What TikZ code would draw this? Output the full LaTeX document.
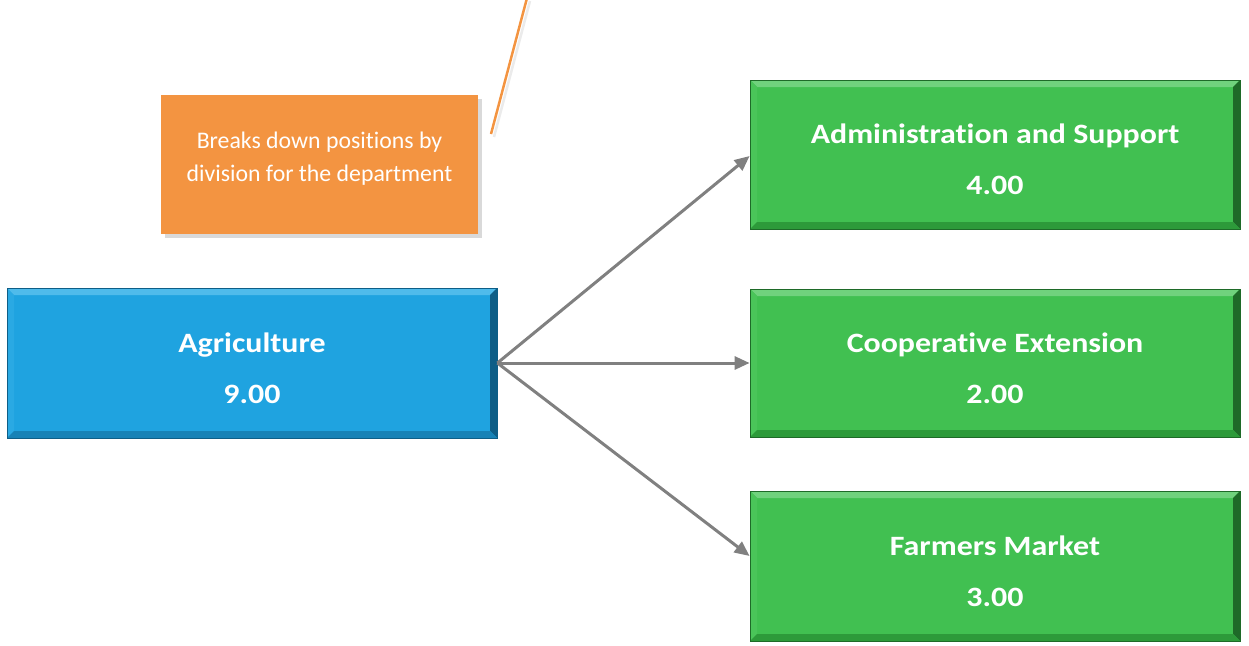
\documentclass[tikz,border=0pt]{standalone}
\usepackage{fontspec}
\setmainfont[Ligatures=NoCommon]{Carlito}
\newfontfamily\boxfont[FakeStretch=1.14, Ligatures=NoCommon]{Carlito}
\usetikzlibrary{shadows,arrows.meta}

\definecolor{agblue}{HTML}{1FA3E0}
\definecolor{agbluetop}{HTML}{4FBBEB}
\definecolor{agblueleft}{HTML}{2AA9E3}
\definecolor{agblueright}{HTML}{0E5E87}
\definecolor{agbluebottom}{HTML}{1782B6}
\definecolor{divgreen}{HTML}{41C051}
\definecolor{divgreentop}{HTML}{70D27D}
\definecolor{divgreenleft}{HTML}{4AC559}
\definecolor{divgreenright}{HTML}{1E6A28}
\definecolor{divgreenbottom}{HTML}{2D9A3A}
\definecolor{noteorange}{HTML}{F39441}
\definecolor{linkgray}{HTML}{808080}

% bevelled edge strips drawn inside a node: top, left, right, bottom colours
\newlength{\bevelw}
\setlength{\bevelw}{7pt}
\newcommand\bevelstrips[4]{%
  \fill[#1] (path picture bounding box.north west) -- (path picture bounding box.north east)
    -- ([xshift=-\bevelw,yshift=-\bevelw]path picture bounding box.north east)
    -- ([xshift=\bevelw,yshift=-\bevelw]path picture bounding box.north west) -- cycle;
  \fill[#2] (path picture bounding box.north west) -- ([xshift=\bevelw,yshift=-\bevelw]path picture bounding box.north west)
    -- ([xshift=\bevelw,yshift=\bevelw]path picture bounding box.south west)
    -- (path picture bounding box.south west) -- cycle;
  \fill[#3] (path picture bounding box.north east) -- ([xshift=-\bevelw,yshift=-\bevelw]path picture bounding box.north east)
    -- ([xshift=-\bevelw,yshift=\bevelw]path picture bounding box.south east)
    -- (path picture bounding box.south east) -- cycle;
  \fill[#4] (path picture bounding box.south west) -- ([xshift=\bevelw,yshift=\bevelw]path picture bounding box.south west)
    -- ([xshift=-\bevelw,yshift=\bevelw]path picture bounding box.south east)
    -- (path picture bounding box.south east) -- cycle;
}

\tikzset{
  unitbox/.style={rectangle, minimum width=490pt, minimum height=149pt, inner sep=0pt},
  unitlabel/.style={align=center, text=white, inner sep=0pt, yshift=-5pt,
    font=\boxfont\bfseries\fontsize{28}{51}\selectfont},
  bluebox/.style={unitbox, fill=agblue, draw=agblueright, line width=0.8pt,
    path picture={\bevelstrips{agbluetop}{agblueleft}{agblueright}{agbluebottom}}},
  greenbox/.style={unitbox, fill=divgreen, draw=divgreenright, line width=0.8pt,
    path picture={\bevelstrips{divgreentop}{divgreenleft}{divgreenright}{divgreenbottom}}},
  notebox/.style={rectangle, fill=noteorange, minimum width=317pt, minimum height=139pt,
    inner sep=0pt, drop shadow={shadow xshift=4pt, shadow yshift=-4pt, opacity=0.3}},
  notetext/.style={align=center, text=white, inner sep=0pt, yshift=6pt,
    font=\fontsize{23.8}{33}\selectfont},
  link/.style={draw=linkgray, line width=3pt, -{Triangle[length=15pt, width=13pt]}},
  callout/.style={draw=noteorange, line width=2.5pt},
}

\begin{document}
\begin{tikzpicture}[x=1pt, y=-1pt]
  \useasboundingbox (0,0) rectangle (1249,645);

  % department and its divisions
  \node[bluebox, minimum height=150pt,
        label={[unitlabel]center:Agriculture\\9.00}] (agri) at (252,363) {};
  \node[greenbox,
        label={[unitlabel]center:Administration and Support\\4.00}] (admin) at (995,154.5) {};
  \node[greenbox, minimum height=148pt,
        label={[unitlabel]center:Cooperative Extension\\2.00}] (coop) at (995,363) {};
  \node[greenbox, minimum height=150pt,
        label={[unitlabel]center:Farmers Market\\3.00}] (farm) at (995,566) {};

  % note with its leader line
  \node[notebox,
        label={[notetext]center:Breaks down positions by\\division for the department}] (note) at (319.5,164.5) {};
  \coordinate (leadA) at (491,134);
  \coordinate (leadB) at (527,-2);
  \draw[black!20, line width=2.5pt, opacity=0.4] ([xshift=3pt,yshift=-3pt]leadA) -- ([xshift=3pt,yshift=-3pt]leadB);
  \draw[callout] (leadA) -- (leadB);

  % links from the department to each division
  \draw[link] (agri.east) -- ([yshift=-1.5pt]admin.west);
  \draw[link] (agri.east) -- (coop.west);
  \draw[link] (agri.east) -- ([yshift=10pt]farm.west);
\end{tikzpicture}
\end{document}
